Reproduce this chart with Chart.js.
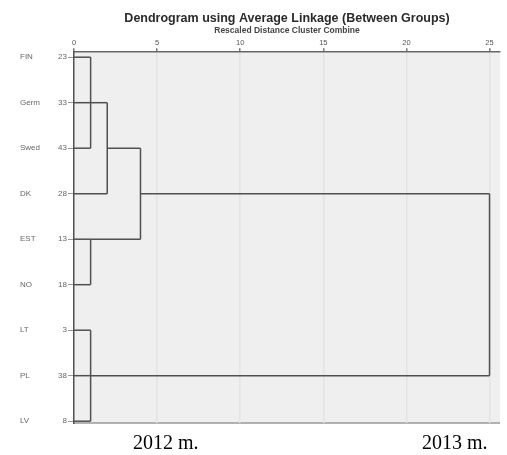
<!DOCTYPE html>
<html lang="en">
<head>
  <meta charset="UTF-8">
  <title>Dendrogram using Average Linkage</title>
  <script src="https://cdn.jsdelivr.net/npm/chart.js@4/dist/chart.umd.min.js"></script>
  <style>
    body { margin: 0; background: #fff; }
    #wrap { position: relative; width: 507px; height: 455px; }
    .caption {
      position: absolute;
      font-family: "Liberation Serif", "Times New Roman", serif;
      font-size: 20px;
      line-height: 20px;
      color: #000;
    }
  </style>
</head>
<body>
  <div id="wrap">
    <canvas id="chart" width="507" height="455"></canvas>
    <div class="caption" style="left:133px; top:432px;">2012 m.</div>
    <div class="caption" style="left:422px; top:432px;">2013 m.</div>
  </div>

  <script>
    // cases, top to bottom
    const names = ['FIN', 'Germ', 'Swed', 'DK', 'EST', 'NO', 'LT', 'PL', 'LV'];
    const caseIds = ['23', '33', '43', '28', '13', '18', '3', '38', '8'];

    // cluster joins (rescaled distance 0-25)
    const mergeDistance = [1, 1, 1, 2, 4, 25];
    const mergeFirstRow = [0, 4, 6, 1, 2, 3];
    const mergeLastRow = [2, 5, 8, 3, 4, 7];
    const mergeLinkRow = [1, 4, 7, 2, 3, 7];
    const mergeParent = [3, 4, 5, 4, 5, -1];
    const leafParent = [0, 0, 0, 3, 1, 1, 2, 2, 2];

    const xTicks = [0, 5, 10, 15, 20, 25];

    // build line segments from the join table
    const segments = [];
    names.forEach((n, i) => {
      segments.push([{ x: 0, y: i }, { x: mergeDistance[leafParent[i]], y: i }]);
    });
    mergeDistance.forEach((d, m) => {
      segments.push([{ x: d, y: mergeFirstRow[m] }, { x: d, y: mergeLastRow[m] }]);
      if (mergeParent[m] >= 0) {
        segments.push([{ x: d, y: mergeLinkRow[m] }, { x: mergeDistance[mergeParent[m]], y: mergeLinkRow[m] }]);
      }
    });

    const datasets = segments.map(seg => ({
      data: seg,
      showLine: true,
      borderColor: '#505050',
      borderWidth: 1.5,
      pointRadius: 0,
      fill: false,
      clip: false
    }));

    const plotBg = {
      id: 'plotBg',
      beforeDraw(chart) {
        const { ctx, chartArea: a } = chart;
        ctx.save();
        ctx.fillStyle = '#efefef';
        ctx.fillRect(a.left, a.top, a.right - a.left, a.bottom - a.top);
        ctx.strokeStyle = '#9a9a9a';
        ctx.lineWidth = 1.5;
        ctx.beginPath();
        ctx.moveTo(a.left, a.bottom);
        ctx.lineTo(a.right, a.bottom);
        ctx.stroke();
        ctx.restore();
      }
    };

    const rowAxis = {
      type: 'linear',
      reverse: true,
      min: -0.11,
      max: 8.04
    };

    new Chart(document.getElementById('chart'), {
      type: 'scatter',
      data: { datasets },
      options: {
        responsive: false,
        animation: false,
        layout: { padding: { left: 20, right: 7, top: 0, bottom: 32 } },
        plugins: {
          legend: { display: false },
          tooltip: { enabled: false },
          title: {
            display: true,
            fullSize: false,
            text: 'Dendrogram using Average Linkage (Between Groups)',
            color: '#2a2a2a',
            font: { family: 'Arial, "Liberation Sans", sans-serif', size: 12.5, weight: 'bold' },
            padding: { top: 11, bottom: 0 }
          },
          subtitle: {
            display: true,
            fullSize: false,
            text: 'Rescaled Distance Cluster Combine',
            color: '#444',
            font: { family: 'Arial, "Liberation Sans", sans-serif', size: 8.5, weight: 'bold' },
            padding: { top: 0, bottom: 1 }
          }
        },
        scales: {
          x: {
            type: 'linear',
            position: 'top',
            min: 0,
            max: 25.63,
            afterBuildTicks: s => { s.ticks = xTicks.map(v => ({ value: v })); },
            afterFit: s => { s.height = 15; },
            ticks: { color: '#555', font: { family: 'Arial, sans-serif', size: 7.5 }, padding: 1, maxRotation: 0 },
            grid: {
              color: c => (c.tick && c.tick.value === 0 ? 'rgba(0,0,0,0)' : '#e4e4e4'),
              tickColor: '#777',
              tickLength: 4,
              lineWidth: 1.5
            },
            border: { color: '#666', width: 1.5 }
          },
          yId: Object.assign({}, rowAxis, {
            position: 'left',
            weight: 0,
            afterBuildTicks: s => { s.ticks = caseIds.map((c, i) => ({ value: i })); },
            afterFit: s => { s.width = 24; },
            ticks: {
              color: '#666',
              font: { family: 'Arial, sans-serif', size: 8 },
              padding: 1,
              callback: (v) => caseIds[v]
            },
            grid: { drawOnChartArea: false, tickLength: 6, color: '#999' },
            border: { color: '#505050', width: 1.5 }
          }),
          y: Object.assign({}, rowAxis, {
            position: 'left',
            weight: 10,
            afterBuildTicks: s => { s.ticks = names.map((n, i) => ({ value: i })); },
            afterFit: s => { s.width = 30; },
            ticks: {
              color: '#666',
              crossAlign: 'far',
              font: { family: 'Arial, sans-serif', size: 8 },
              padding: 0,
              callback: (v) => names[v]
            },
            grid: { display: false },
            border: { display: false }
          })
        }
      },
      plugins: [plotBg]
    });
  </script>
</body>
</html>
